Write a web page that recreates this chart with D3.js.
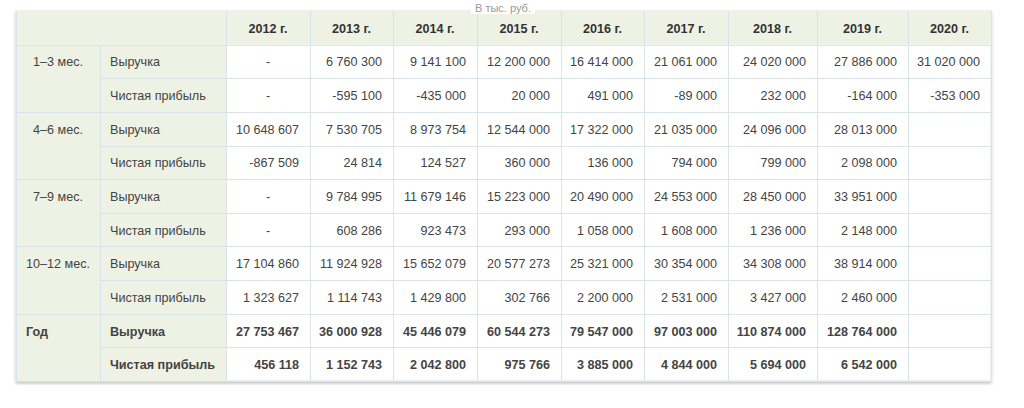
<!DOCTYPE html>
<html>
<head>
<meta charset="utf-8">
<script src="https://cdn.jsdelivr.net/npm/d3@7"></script>
<style>
	body { margin: 0; background: #fff; }
	svg { display: block; font-family: "Liberation Sans", Arial, sans-serif; }
</style>
</head>
<body>
<svg id="chart"></svg>
<script>
// table data, thousands of roubles; null = "-", missing entry = empty cell
const years = ['2012 г.', '2013 г.', '2014 г.', '2015 г.', '2016 г.', '2017 г.', '2018 г.', '2019 г.', '2020 г.'];
const groups = ['1–3 мес.', '4–6 мес.', '7–9 мес.', '10–12 мес.', 'Год'];
const metrics = ['Выручка', 'Чистая прибыль'];
const unitLabel = 'В тыс. руб.';

const revenueQ1 = [null, 6760300, 9141100, 12200000, 16414000, 21061000, 24020000, 27886000, 31020000];
const profitQ1 = [null, -595100, -435000, 20000, 491000, -89000, 232000, -164000, -353000];
const revenueQ2 = [10648607, 7530705, 8973754, 12544000, 17322000, 21035000, 24096000, 28013000];
const profitQ2 = [-867509, 24814, 124527, 360000, 136000, 794000, 799000, 2098000];
const revenueQ3 = [null, 9784995, 11679146, 15223000, 20490000, 24553000, 28450000, 33951000];
const profitQ3 = [null, 608286, 923473, 293000, 1058000, 1608000, 1236000, 2148000];
const revenueQ4 = [17104860, 11924928, 15652079, 20577273, 25321000, 30354000, 34308000, 38914000];
const profitQ4 = [1323627, 1114743, 1429800, 302766, 2200000, 2531000, 3427000, 2460000];
const revenueYear = [27753467, 36000928, 45446079, 60544273, 79547000, 97003000, 110874000, 128764000];
const profitYear = [456118, 1152743, 2042800, 975766, 3885000, 4844000, 5694000, 6542000];

const groupValues = [
	[revenueQ1, profitQ1],
	[revenueQ2, profitQ2],
	[revenueQ3, profitQ3],
	[revenueQ4, profitQ4],
	[revenueYear, profitYear]
];

// layout
const W = 1024, H = 408;
const tblLeft = 16, tblTop = 11, tblBottom = 381;
const colWidths = [84, 126, 84, 83, 84, 84, 83, 84, 89, 91, 83];
const headBg = '#eef2e5';
const lineColour = '#d9e3ea';
const textColour = '#444';
const fontSize = 12.6;

const colKeys = d3.range(colWidths.length);
const colEdges = Array.from(d3.cumsum([tblLeft].concat(colWidths)));
const tblRight = colEdges[colEdges.length - 1];
const xLeft = d3.scaleOrdinal().domain(colKeys).range(colEdges.slice(0, -1));
const xRight = d3.scaleOrdinal().domain(colKeys).range(colEdges.slice(1));

const nRows = 1 + groups.length * metrics.length;
const y = d3.scaleBand().domain(d3.range(nRows)).range([tblTop, tblBottom]);

const fmt = d3.formatLocale({ decimal: ',', thousands: '\u00a0', grouping: [3], currency: ['', ''], minus: '-' }).format(',d');

// flatten body rows
const rows = [];
groups.forEach((g, gi) => {
	metrics.forEach((m, mi) => {
		rows.push({ row: 1 + gi * 2 + mi, group: g, gi, metric: m, mi, values: groupValues[gi][mi], bold: gi === groups.length - 1 });
	});
});

const svg = d3.select('#chart').attr('width', W).attr('height', H);

const defs = svg.append('defs');
defs.append('filter').attr('id', 'shadow').attr('x', '-5%').attr('y', '-5%').attr('width', '110%').attr('height', '115%')
	.append('feDropShadow').attr('dx', 0).attr('dy', 2).attr('stdDeviation', 1.5)
	.attr('flood-color', '#000').attr('flood-opacity', 0.25);

// table body background with shadow
svg.append('rect')
	.attr('x', tblLeft).attr('y', tblTop)
	.attr('width', tblRight - tblLeft).attr('height', tblBottom - tblTop)
	.attr('fill', '#fff').attr('stroke', lineColour)
	.attr('filter', 'url(#shadow)');

// header row background
svg.append('rect')
	.attr('x', tblLeft).attr('y', y(0))
	.attr('width', tblRight - tblLeft).attr('height', y.bandwidth())
	.attr('fill', headBg);

// first two columns background
svg.append('rect')
	.attr('x', xLeft(0)).attr('y', y(1))
	.attr('width', xRight(1) - xLeft(0)).attr('height', tblBottom - y(1))
	.attr('fill', headBg);

// grid lines (header spans the first two columns)
const grid = svg.append('g').attr('stroke', lineColour).attr('stroke-width', 1).attr('shape-rendering', 'crispEdges');
grid.selectAll('line.v')
	.data(colEdges)
	.join('line')
	.attr('class', 'v')
	.attr('x1', d => Math.round(d) + 0.5).attr('x2', d => Math.round(d) + 0.5)
	.attr('y1', (d, i) => (i === 1 ? Math.round(y(1)) : tblTop)).attr('y2', tblBottom);
grid.selectAll('line.h')
	.data(d3.range(1, nRows + 1))
	.join('line')
	.attr('class', 'h')
	.attr('x1', r => (r % 2 === 0 && r < nRows ? xLeft(1) : tblLeft))
	.attr('x2', tblRight)
	.attr('y1', r => Math.round(r < nRows ? y(r) : tblBottom) + 0.5)
	.attr('y2', r => Math.round(r < nRows ? y(r) : tblBottom) + 0.5);

const midY = r => y(r) + y.bandwidth() / 2 + 1;

// year headers
svg.append('g')
	.selectAll('text')
	.data(years)
	.join('text')
	.attr('x', (d, i) => (xLeft(i + 2) + xRight(i + 2)) / 2)
	.attr('y', midY(0))
	.attr('text-anchor', 'middle')
	.attr('dominant-baseline', 'central')
	.attr('font-size', fontSize)
	.attr('font-weight', 'bold')
	.attr('fill', '#333')
	.text(d => d);

// group labels
svg.append('g')
	.selectAll('text')
	.data(groups)
	.join('text')
	.attr('x', (d, i) => (i === groups.length - 1 ? xLeft(0) + 10 : (xLeft(0) + xRight(0)) / 2))
	.attr('y', (d, i) => midY(1 + i * 2))
	.attr('text-anchor', (d, i) => (i === groups.length - 1 ? 'start' : 'middle'))
	.attr('dominant-baseline', 'central')
	.attr('font-size', fontSize)
	.attr('font-weight', (d, i) => (i === groups.length - 1 ? 'bold' : 'normal'))
	.attr('fill', textColour)
	.text(d => d);

// metric labels
svg.append('g')
	.selectAll('text')
	.data(rows)
	.join('text')
	.attr('x', xLeft(1) + 10)
	.attr('y', d => midY(d.row))
	.attr('dominant-baseline', 'central')
	.attr('font-size', fontSize)
	.attr('font-weight', d => (d.bold ? 'bold' : 'normal'))
	.attr('fill', textColour)
	.text(d => d.metric);

// values
const cells = [];
rows.forEach(r => {
	r.values.forEach((v, i) => cells.push({ row: r.row, col: i + 2, v, bold: r.bold }));
});
svg.append('g')
	.selectAll('text')
	.data(cells)
	.join('text')
	.attr('x', d => (d.v === null ? (xLeft(d.col) + xRight(d.col)) / 2 : xRight(d.col) - 11))
	.attr('y', d => midY(d.row))
	.attr('text-anchor', d => (d.v === null ? 'middle' : 'end'))
	.attr('dominant-baseline', 'central')
	.attr('font-size', fontSize)
	.attr('font-weight', d => (d.bold ? 'bold' : 'normal'))
	.attr('fill', textColour)
	.text(d => (d.v === null ? '-' : fmt(d.v)));

// unit caption over the top border
const cap = svg.append('g');
const capText = cap.append('text')
	.attr('x', 503).attr('y', 8)
	.attr('text-anchor', 'middle')
	.attr('dominant-baseline', 'central')
	.attr('font-size', 11)
	.attr('fill', '#999')
	.text(unitLabel);
const bb = capText.node().getBBox();
cap.insert('rect', 'text')
	.attr('x', bb.x - 4).attr('y', 0)
	.attr('width', bb.width + 8).attr('height', 14)
	.attr('fill', '#fff');
</script>
</body>
</html>
